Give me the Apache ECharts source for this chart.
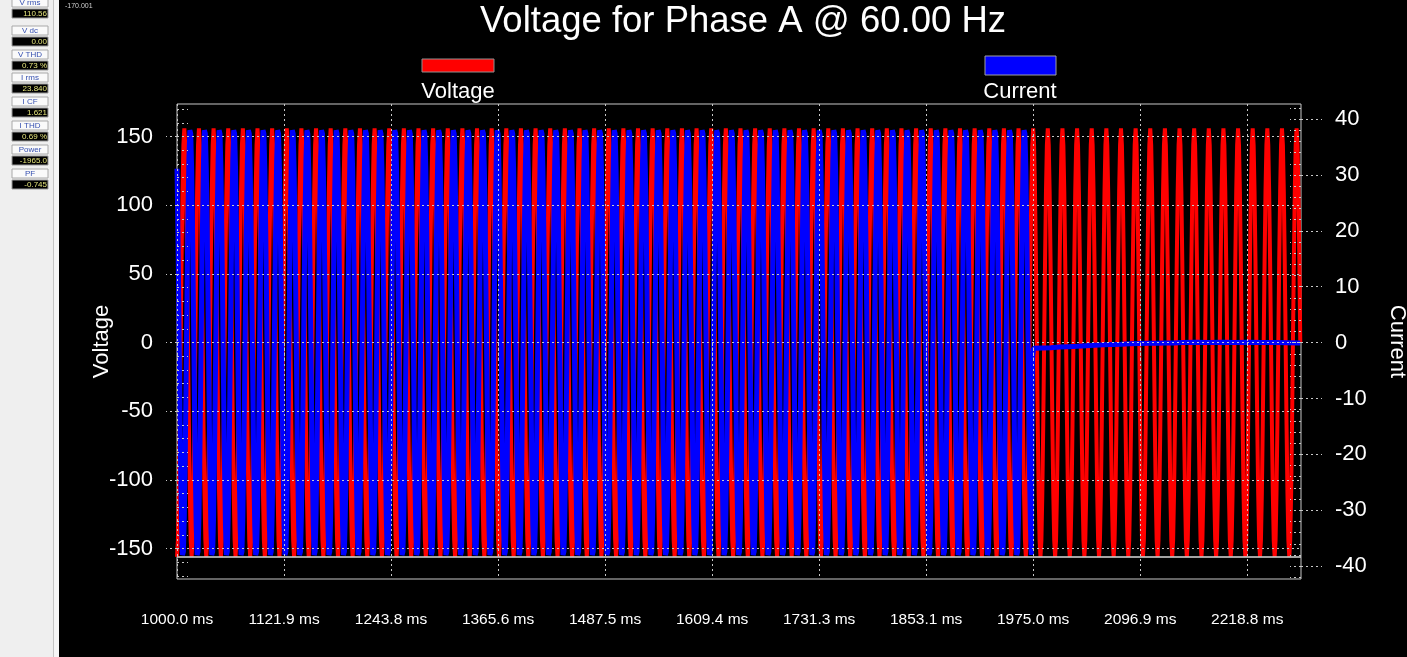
<!DOCTYPE html>
<html>
<head>
<meta charset="utf-8">
<title>Voltage for Phase A @ 60.00 Hz</title>
<script src="https://cdn.jsdelivr.net/npm/echarts@6/dist/echarts.min.js"></script>
<style>
html, body { margin: 0; padding: 0; background: #000; }
#chart1 { width: 1407px; height: 657px; }
</style>
</head>
<body>
<div id="chart1"></div>
<script>
var sampleStep = 1000 / 960;
var voltageCycle = [-156, -144, -110, -60, 0, 60, 110, 144, 156, 144, 110, 60, 0, -60, -110, -144];
var currentCycle = [31.1, 20.1, 6.0, -9.0, -22.6, -32.8, -38.0, -37.4, -31.1, -20.1, -6.0, 9.0, 22.6, 32.8, 38.0, 37.4];
var startTime = 1000;
var endTime = 2280;
var tripTime = 1973.5;
// current after the breaker opens, [ms, A]
var currentAfterTrip = [
	[1974.2, -3.0], [1975.5, -1.0], [1985, -0.95], [1995, -0.9], [2005, -0.8], [2015, -0.72],
	[2025, -0.65], [2035, -0.55], [2045, -0.47], [2055, -0.4], [2065, -0.32], [2075, -0.3],
	[2085, -0.2], [2095, -0.15], [2105, -0.1], [2115, -0.12], [2125, -0.05], [2135, -0.07],
	[2145, 0], [2160, 0.05], [2175, 0], [2190, 0.05], [2205, 0], [2220, 0.05],
	[2235, 0], [2250, 0.02], [2265, -0.03], [2279, -0.08]
];

var timeTicks = [1000, 1121.875, 1243.75, 1365.625, 1487.5, 1609.375, 1731.25, 1853.125, 1975, 2096.875, 2218.75];
var voltageTicks = [-150, -100, -50, 0, 50, 100, 150];
var voltageMinor = [-170, -160, -150, -140, -130, -120, -110, -100, -90, -80, -70, -60, -50, -40, -30, -20, -10, 0,
	10, 20, 30, 40, 50, 60, 70, 80, 90, 100, 110, 120, 130, 140, 150, 160, 170];
var currentTicks = [-40, -30, -20, -10, 0, 10, 20, 30, 40];
var currentMinor = [-42, -40, -38, -36, -34, -32, -30, -28, -26, -24, -22, -20, -18, -16, -14, -12, -10, -8, -6, -4, -2, 0,
	2, 4, 6, 8, 10, 12, 14, 16, 18, 20, 22, 24, 26, 28, 30, 32, 34, 36, 38, 40, 42];

var panelLabels = ['V rms', 'V dc', 'V THD', 'I rms', 'I CF', 'I THD', 'Power', 'PF'];
var panelValues = ['110.56', '0.00', '0.73 %', '23.840', '1.621', '0.69 %', '-1965.0', '-0.745'];

var voltageData = [], currentData = [];
for (var i = 0; startTime + i * sampleStep <= endTime; i++) {
	var t = startTime + i * sampleStep;
	voltageData.push([t, voltageCycle[i % voltageCycle.length]]);
	if (t < tripTime) currentData.push([t, currentCycle[i % currentCycle.length]]);
}
currentData = currentData.concat(currentAfterTrip);

var font = 'Liberation Sans, Arial, sans-serif';
var gridDash = { color: '#c8c8c8', type: [2, 3], width: 1 };

// left status panel
var panel = [
	{ type: 'rect', shape: { x: 0, y: 0, width: 53, height: 657 }, style: { fill: '#efefef' } },
	{ type: 'rect', shape: { x: 53, y: 0, width: 1, height: 657 }, style: { fill: '#c4c4c4' } },
	{ type: 'rect', shape: { x: 54, y: 0, width: 5, height: 657 }, style: { fill: '#f6f6f6' } },
	{ type: 'text', x: 65, y: 3, style: { text: '-170.001', fill: '#d0d0d0', font: '7px ' + font } }
];
var labelTops = [-2, 26, 50, 73, 97, 121, 145, 169];
panelLabels.forEach(function (name, k) {
	var y = labelTops[k];
	panel.push({ type: 'rect', shape: { x: 12, y: y, width: 36, height: 9 }, style: { fill: '#fafafa', stroke: '#a8a8a8', lineWidth: 1 } });
	panel.push({ type: 'text', x: 30, y: y + 4.5, style: { text: name, fill: '#3650b0', font: '8px ' + font, align: 'center', verticalAlign: 'middle' } });
	panel.push({ type: 'rect', shape: { x: 12, y: y + 11, width: 36, height: 9 }, style: { fill: '#000', stroke: '#9a9a9a', lineWidth: 1 } });
	panel.push({ type: 'text', x: 47, y: y + 15.5, style: { text: panelValues[k], fill: '#e4e47c', font: '8px ' + font, align: 'right', verticalAlign: 'middle' } });
});

// legend: swatch above the name
var legendMarks = [
	{ type: 'rect', shape: { x: 422, y: 59, width: 72, height: 13 }, style: { fill: '#ff0000', stroke: '#909090', lineWidth: 1 } },
	{ type: 'text', x: 458, y: 92, style: { text: 'Voltage', fill: '#fff', font: '22px ' + font, align: 'center', verticalAlign: 'middle' } },
	{ type: 'rect', shape: { x: 985, y: 56, width: 71, height: 19 }, style: { fill: '#0000ff', stroke: '#a0a0a0', lineWidth: 1 } },
	{ type: 'text', x: 1020, y: 92, style: { text: 'Current', fill: '#fff', font: '22px ' + font, align: 'center', verticalAlign: 'middle' } }
];

var option = {
	backgroundColor: '#000',
	animation: false,
	title: {
		text: 'Voltage for Phase A @ 60.00 Hz',
		left: 480,
		top: 3,
		padding: 0,
		textStyle: { color: '#fff', fontSize: 36.5, fontWeight: 'normal', fontFamily: font }
	},
	graphic: panel.concat(legendMarks),
	grid: {
		left: 177,
		top: 104,
		width: 1124,
		height: 475,
		containLabel: false,
		outerBoundsMode: 'none',
		show: true,
		borderColor: '#c8c8c8',
		borderWidth: 1,
		backgroundColor: 'transparent'
	},
	xAxis: {
		type: 'value',
		min: startTime,
		max: endTime,
		z: 5,
		axisLine: { show: false },
		axisTick: { show: true, length: 20, customValues: timeTicks, lineStyle: gridDash },
		axisLabel: {
			customValues: timeTicks,
			margin: 33,
			color: '#fff',
			fontSize: 15.5,
			fontFamily: font,
			formatter: function (v) { return v.toFixed(1) + ' ms'; }
		},
		splitLine: { show: true, lineStyle: gridDash }
	},
	yAxis: [{
		type: 'value',
		position: 'left',
		min: -172.2,
		max: 173.7,
		z: 5,
		name: 'Voltage',
		nameLocation: 'middle',
		nameGap: 64,
		nameMoveOverlap: false,
		nameTextStyle: { color: '#fff', fontSize: 22, fontFamily: font },
		axisLine: { show: false },
		axisTick: { show: true, length: 11, customValues: voltageTicks, lineStyle: gridDash },
		axisLabel: { customValues: voltageTicks, margin: 24, color: '#fff', fontSize: 22, fontFamily: font },
		splitLine: { show: true, lineStyle: gridDash }
	}, {
		type: 'value',
		position: 'right',
		min: -42.3,
		max: 42.7,
		z: 5,
		name: 'Current',
		nameLocation: 'middle',
		nameRotate: -90,
		nameGap: 85,
		nameMoveOverlap: false,
		nameTextStyle: { color: '#fff', fontSize: 22, fontFamily: font },
		axisLine: { show: false },
		axisTick: { show: true, length: 21, customValues: currentTicks, lineStyle: gridDash },
		axisLabel: { customValues: currentTicks, margin: 34, color: '#fff', fontSize: 22, fontFamily: font },
		splitLine: { show: false }
	}, {
		type: 'value',
		position: 'left',
		min: -172.2,
		max: 173.7,
		z: 5,
		axisLine: { show: false },
		axisTick: { show: true, inside: true, length: 11, customValues: voltageMinor, lineStyle: gridDash },
		axisLabel: { show: false },
		splitLine: { show: false }
	}, {
		type: 'value',
		position: 'right',
		min: -42.3,
		max: 42.7,
		z: 5,
		axisLine: { show: false },
		axisTick: { show: true, inside: true, length: 11, customValues: currentMinor, lineStyle: gridDash },
		axisLabel: { show: false },
		splitLine: { show: false }
	}],
	series: [{
		name: 'Voltage',
		type: 'line',
		yAxisIndex: 0,
		data: voltageData,
		symbol: 'none',
		lineStyle: { color: '#ff0000', width: 4 },
		itemStyle: { color: '#ff0000' },
		markLine: {
			silent: true,
			symbol: 'none',
			label: { show: false },
			lineStyle: { color: '#d8d8d8', type: 'solid', width: 1.5 },
			data: [{ yAxis: -156 }]
		}
	}, {
		name: 'Current',
		type: 'line',
		yAxisIndex: 1,
		data: currentData,
		symbol: 'none',
		lineStyle: { color: '#0000ff', width: 5 },
		itemStyle: { color: '#0000ff' }
	}]
};
var chart1 = echarts.init(document.getElementById('chart1'));
chart1.setOption(option);
</script>
</body>
</html>
